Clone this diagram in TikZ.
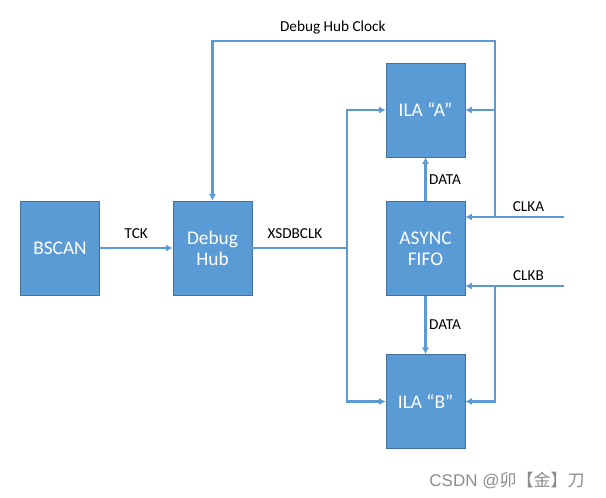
\documentclass[tikz,border=0pt]{standalone}
\usepackage{fontspec}
\setmainfont{Carlito}
\newfontfamily\cjkfont{Noto Sans CJK SC}
\newfontfamily\markfont{Liberation Sans}
\usetikzlibrary{arrows.meta}
\definecolor{boxblue}{HTML}{5B9BD5}
\definecolor{boxedge}{HTML}{41719C}
\tikzset{
  block/.style={draw=boxedge, fill=boxblue, text=white, line width=0.6pt,
    minimum width=2.37cm, minimum height=2.82cm, align=center,
    font=\fontsize{16.5}{18}\selectfont},
  wire/.style={draw=boxblue, line width=2.3pt},
  feed/.style={wire, -{Latex[length=0.2cm,width=0.22cm]}},
  sig/.style={inner sep=0pt, font=\fontsize{13}{15}\selectfont}
}
\begin{document}
\begin{tikzpicture}[x=0.03cm,y=-0.03cm]
    \useasboundingbox (0,0) rectangle (606,498);
    % blocks
    \node[block] (bscan) at (60,248) {BSCAN};
    \node[block] (hub) at (212.5,248) {Debug\\Hub};
    \node[block] (ilaA) at (425.5,110) {ILA “A”};
    \node[block] (fifo) at (425.5,248.5) {ASYNC\\FIFO};
    \node[block] (ilaB) at (425.5,401.5) {ILA “B”};
    % clock taps
    \coordinate (split) at (347,248);
    \coordinate (hubClk) at (495,41);
    \coordinate (clkaTap) at (495,217);
    \coordinate (clkbTap) at (495,286);
    \coordinate (clkaSrc) at (564,217);
    \coordinate (clkbSrc) at (564,286);
    % TCK and XSDBCLK
    \draw[feed] (bscan) -- node[sig, midway, above=6.5pt]{TCK} (hub);
    \draw[wire] (hub.east) -- node[sig, pos=0.45, above=6.5pt]{XSDBCLK} (split);
    \draw[feed] (split) |- (ilaA);
    \draw[feed] (split) |- (ilaB);
    % debug hub clock
    \draw[feed] (clkaTap) -- (hubClk) -| node[sig, pos=0.287, above=5pt]{Debug Hub Clock} (hub);
    \draw[feed] (clkaTap |- ilaA) -- (ilaA);
    \draw[feed] (clkbTap) |- (ilaB);
    % CLKA / CLKB
    \draw[feed] (clkaSrc) -- node[sig, pos=0.36, above=3.5pt]{CLKA} (clkaSrc -| fifo.east);
    \draw[feed] (clkbSrc) -- node[sig, pos=0.36, above=3.5pt]{CLKB} (clkbSrc -| fifo.east);
    % data
    \draw[feed] (fifo) -- node[sig, midway, right=2pt]{DATA} (ilaA);
    \draw[feed] (fifo) -- node[sig, midway, right=2pt]{DATA} (ilaB);
    % watermark
    \node[text=black!45, inner sep=0pt, font=\fontsize{14.5}{16}\selectfont] (mark) at (507,480)
      {\markfont CSDN @\cjkfont 卯【金】刀};
\end{tikzpicture}
\end{document}
